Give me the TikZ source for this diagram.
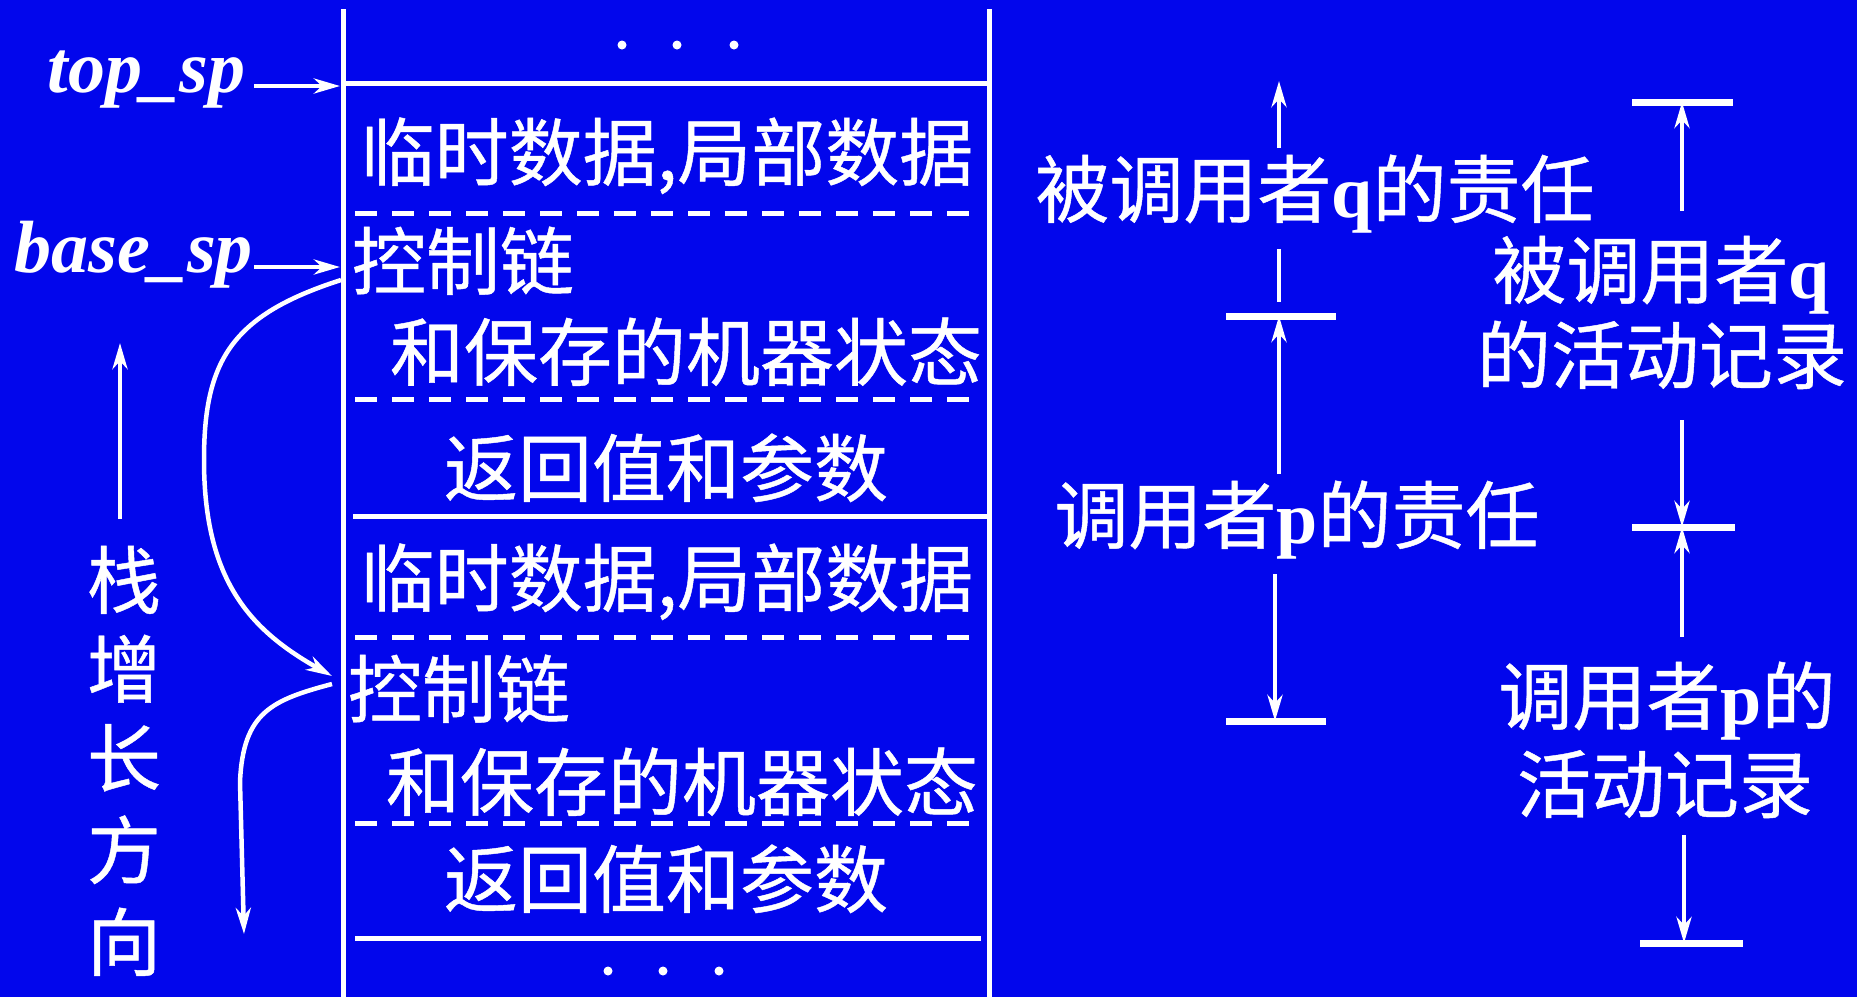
\documentclass[tikz,border=0pt]{standalone}
\usepackage{fontspec}
\setmainfont{Liberation Serif}
\newfontfamily\cjk[FakeBold=0.6]{Noto Sans CJK SC}
\usetikzlibrary{arrows.meta}
\definecolor{bgblue}{RGB}{2,6,236}
\tikzset{
  every node/.style={inner sep=0pt, outer sep=0pt, text=white},
  cn/.style={font=\cjk\fontsize{74}{89}\selectfont, anchor=base},
  cw/.style={cn, anchor=base west},
  lat/.style={font=\fontsize{74}{89}\selectfont\bfseries\itshape, anchor=base east},
  boxline/.style={draw=white, line width=5pt},
  dashline/.style={draw=white, line width=5pt, dash pattern=on 22pt off 15pt},
  barline/.style={draw=white, line width=7pt},
  plainline/.style={draw=white, line width=4.5pt},
  arr/.style={draw=white, line width=4.5pt, -{Stealth[length=26pt,width=15pt,inset=8pt]}},
  link/.style={draw=white, line width=4.5pt, -{Stealth[length=26pt,width=15pt,inset=8pt]}},
  dot/.style={fill=white}
}
\newcommand{\bq}{{\rmfamily\bfseries q}}
\newcommand{\bp}{{\rmfamily\bfseries p}}
\begin{document}
\begin{tikzpicture}[x=1pt,y=-1pt]
\fill[bgblue] (0,0) rectangle (1857,997);
\useasboundingbox (0,0) rectangle (1857,997);

% ---- stack box outline
\coordinate (LT) at (343,9);  \coordinate (LB) at (343,997);
\coordinate (RT) at (989,9);  \coordinate (RB) at (989,997);
\draw[boxline] (LT) -- (LB);
\draw[boxline] (RT) -- (RB);
\coordinate (s1a) at (343,83);  \coordinate (s1b) at (989,83);
\coordinate (s2a) at (353,516); \coordinate (s2b) at (989,516);
\coordinate (s3a) at (355,938); \coordinate (s3b) at (981,938);
\draw[boxline] (s1a) -- (s1b);
\draw[boxline] (s2a) -- (s2b);
\draw[boxline] (s3a) -- (s3b);
\coordinate (d1a) at (355,213); \coordinate (d1b) at (975,213);
\coordinate (d2a) at (355,399); \coordinate (d2b) at (973,399);
\coordinate (d3a) at (355,637); \coordinate (d3b) at (975,637);
\coordinate (d4a) at (355,823); \coordinate (d4b) at (973,823);
\draw[dashline] (d1a) -- (d1b);
\draw[dashline] (d2a) -- (d2b);
\draw[dashline] (d3a) -- (d3b);
\draw[dashline] (d4a) -- (d4b);

% dots
\fill[dot] (622,45) circle (4.5pt);
\fill[dot] (677,45) circle (4.5pt);
\fill[dot] (734,45) circle (4.5pt);
\fill[dot] (608,971) circle (4.5pt);
\fill[dot] (663,971) circle (4.5pt);
\fill[dot] (719,971) circle (4.5pt);

% ---- box texts
\node[cn] (t1a) at (667,180) {临时数据,局部数据};
\node[cw] (t1b) at (352,289) {控制链};
\node[cw] (t1c) at (390,380) {和保存的机器状态};
\node[cn] (t1d) at (666,496) {返回值和参数};
\node[cn] (t2a) at (667,606) {临时数据,局部数据};
\node[cw] (t2b) at (348,717) {控制链};
\node[cw] (t2c) at (386,810) {和保存的机器状态};
\node[cn] (t2d) at (666,907) {返回值和参数};

% ---- pointers
\node[lat] (ts) at (245,92) {top\_sp};
\node[lat] (bs) at (253,272) {base\_sp};
\coordinate (tsA) at (254,86);  \coordinate (tsB) at (340,86);
\coordinate (bsA) at (254,267); \coordinate (bsB) at (340,267);
\draw[arr] (tsA) -- (tsB);
\draw[arr] (bsA) -- (bsB);

% ---- growth direction
\coordinate (gA) at (120,519); \coordinate (gB) at (120,343);
\draw[arr] (gA) -- (gB);
\node[cn] (g1) at (124,608) {栈};
\node[cn] (g2) at (124,697) {增};
\node[cn] (g3) at (124,786) {长};
\node[cn] (g4) at (124,878) {方};
\node[cn] (g5) at (124,970) {向};

% ---- control links
\coordinate (k1) at (341,280);
\coordinate (k2) at (332,676);
\coordinate (k3) at (332,684);
\coordinate (k4) at (244,934);
\draw[link] (k1) .. controls (232,315) and (204,360) .. (204,460)
            .. controls (204,580) and (250,630) .. (k2);
\draw[link] (k3) .. controls (272,700) and (243,712) .. (240,782) -- (k4);

% ---- right column 1
\node[cn] (rq) at (1315,217) {被调用者\bq 的责任};
\node[cn] (rp) at (1297,543) {调用者\bp 的责任};
\coordinate (c1a) at (1279,148); \coordinate (c1b) at (1279,81);
\draw[arr] (c1a) -- (c1b);
\coordinate (c1c) at (1279,249); \coordinate (c1d) at (1279,302);
\draw[plainline] (c1c) -- (c1d);
\coordinate (b1a) at (1226,316); \coordinate (b1b) at (1336,316);
\draw[barline] (b1a) -- (b1b);
\coordinate (c1e) at (1279,474); \coordinate (c1f) at (1279,316);
\draw[arr] (c1e) -- (c1f);
\coordinate (c1g) at (1275,574); \coordinate (c1h) at (1275,721);
\draw[arr] (c1g) -- (c1h);
\coordinate (b2a) at (1226,721); \coordinate (b2b) at (1326,721);
\draw[barline] (b2a) -- (b2b);

% ---- right column 2
\node[cn] (aq1) at (1661,298) {被调用者\bq};
\node[cn] (aq2) at (1662,383) {的活动记录};
\node[cn] (ap1) at (1667,724) {调用者\bp 的};
\node[cn] (ap2) at (1665,812) {活动记录};
\coordinate (b3a) at (1632,102); \coordinate (b3b) at (1733,102);
\draw[barline] (b3a) -- (b3b);
\coordinate (c2a) at (1682,211); \coordinate (c2b) at (1682,102);
\draw[arr] (c2a) -- (c2b);
\coordinate (c2c) at (1682,420); \coordinate (c2d) at (1682,527);
\draw[arr] (c2c) -- (c2d);
\coordinate (b4a) at (1632,527); \coordinate (b4b) at (1735,527);
\draw[barline] (b4a) -- (b4b);
\coordinate (c2e) at (1682,637); \coordinate (c2f) at (1682,527);
\draw[arr] (c2e) -- (c2f);
\coordinate (c2g) at (1684,835); \coordinate (c2h) at (1684,943);
\draw[arr] (c2g) -- (c2h);
\coordinate (b5a) at (1640,943); \coordinate (b5b) at (1743,943);
\draw[barline] (b5a) -- (b5b);
\end{tikzpicture}
\end{document}
